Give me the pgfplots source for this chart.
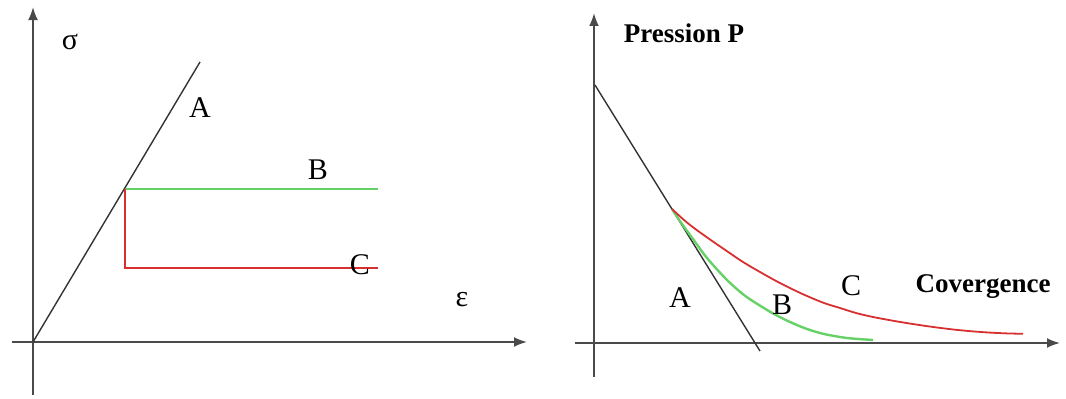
\documentclass[border=0pt]{standalone}
\usepackage{fontspec}
\setmainfont{Liberation Serif}
\usepackage{pgfplots}
\pgfplotsset{compat=1.18}
\usetikzlibrary{arrows.meta}
\definecolor{cAxis}{HTML}{4A4A4A}
\definecolor{cLine}{HTML}{333333}
\definecolor{cGreen}{HTML}{66D166}
\definecolor{cRed}{HTML}{D83030}

\pgfplotsset{
  sketch/.style={
    axis lines=middle,
    xtick=\empty, ytick=\empty,
    enlargelimits=false,
    clip=false,
    x=0.5pt, y=0.5pt,
    anchor=south west,
    axis line style={draw=cAxis, line width=1pt, -{Latex[length=6.5pt,width=5pt]}},
  },
}
\tikzset{
  lbl/.style={font=\fontsize{15}{17}\selectfont, inner sep=0pt},
  blbl/.style={font=\fontsize{13.5}{16}\selectfont\bfseries, inner sep=0pt},
}

\begin{document}
\begin{tikzpicture}
\useasboundingbox (0,0) rectangle (533pt,199pt);

% stress-strain
\begin{axis}[sketch, at={(6pt,1.5pt)},
    xmin=-21, xmax=494, ymin=-53, ymax=335]
\addplot[cLine, line width=0.7pt] coordinates {(0,0) (167,280)};
\addplot[cGreen, line width=1.2pt] coordinates {(92,153) (345,153)};
\addplot[cRed, line width=0.9pt] coordinates {(92,153) (92,74) (345,74)};
\node[lbl] at (axis cs:37,300) {σ};
\node[lbl] at (axis cs:167,234) {A};
\node[lbl] at (axis cs:285,172) {B};
\node[lbl] at (axis cs:327,77) {C};
\node[lbl] at (axis cs:429,42) {ε};
\end{axis}

% pressure-convergence
\begin{axis}[sketch, at={(287.5pt,10.5pt)},
    xmin=-19, xmax=466, ymin=-34, ymax=330]
\addplot[cLine, line width=0.7pt] coordinates {(1,258) (166,-8)};
\addplot[cGreen, line width=1.2pt, smooth] coordinates {
  (78,134) (88,119) (99,104) (113,85) (133,63) (150,48) (165,38)
  (180,29) (196,21) (213,14) (230,9) (253,5) (279,3)};
\addplot[cRed, line width=0.9pt, smooth] coordinates {
  (78,134) (90,123) (100,115) (116,103.5) (132,92.5) (149,81) (166,71)
  (184,61) (200,53) (213,47) (230,40) (246,35) (262,30) (279,26)
  (296,22.8) (313,19.9) (330,17.3) (346,15.1) (362,13.2) (379,11.6)
  (396,10.4) (413,9.6) (429,9.2)};
\node[blbl] at (axis cs:90,310) {Pression P};
\node[blbl] at (axis cs:389,56) {Covergence};
\node[lbl] at (axis cs:86,45) {A};
\node[lbl] at (axis cs:188,38) {B};
\node[lbl] at (axis cs:257,57) {C};
\end{axis}
\end{tikzpicture}
\end{document}
